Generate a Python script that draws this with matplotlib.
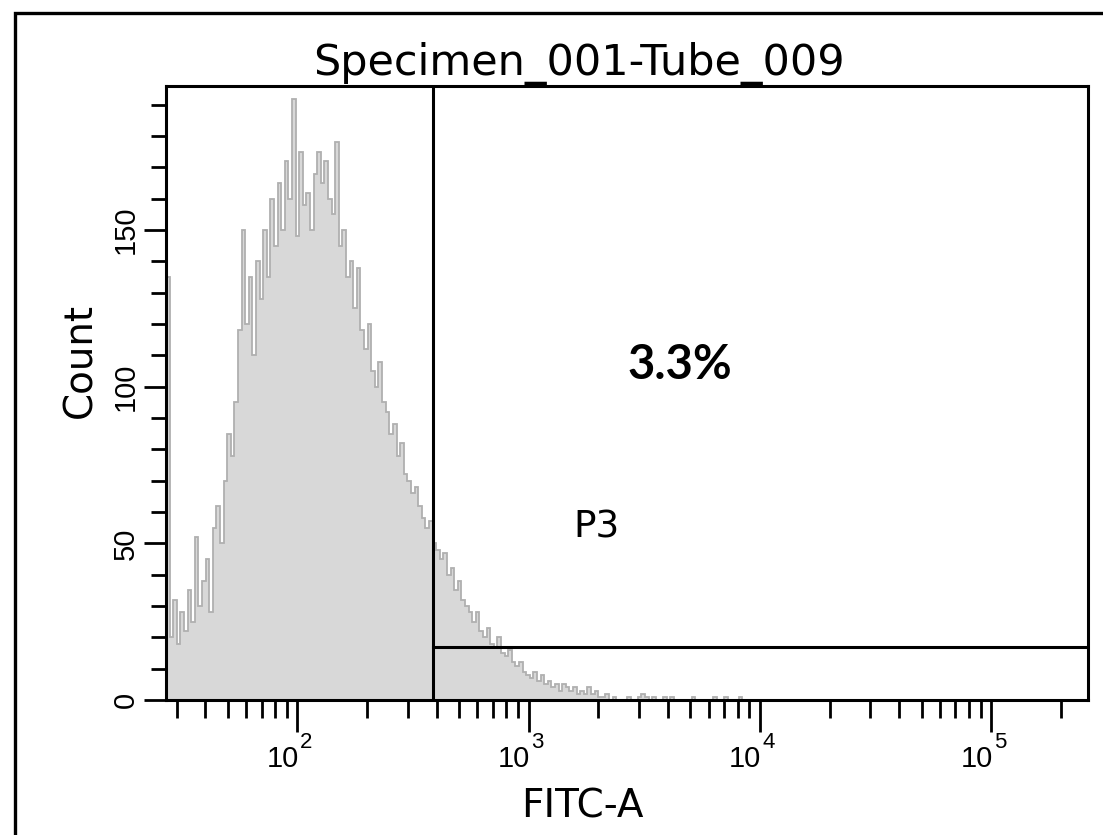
import numpy as np
import matplotlib
matplotlib.use("Agg")
import matplotlib.pyplot as plt
from matplotlib import patches, transforms
from matplotlib.ticker import FixedLocator, NullFormatter

# histogram counts per channel (256 log channels over the display range)
counts = [135,
          20, 32, 18, 28, 22, 35, 25, 52, 30, 38, 45, 28,
          55, 62, 50, 70, 85, 78, 95, 118, 150, 120, 135, 110,
          140, 128, 150, 135, 160, 145, 165, 150, 172, 160, 192, 148,
          175, 158, 162, 150, 168, 175, 165, 172, 160, 155, 178, 145,
          150, 135, 140, 125, 138, 118, 112, 120, 105, 100, 108, 95,
          92, 85, 88, 78, 82, 72, 70, 66, 68, 62, 58, 55,
          57, 50, 48, 45, 47, 40, 42, 35, 38, 32, 30, 28,
          25, 28, 22, 20, 23, 18, 17, 20, 15, 14, 16, 12,
          11, 12, 9, 8, 7, 9, 6, 8, 5, 6, 4, 5,
          3, 5, 4, 3, 4, 2, 3, 2, 4, 2, 3, 1,
          1, 2, 0, 1, 0, 0, 0, 1, 0, 0, 1, 2,
          1, 0, 1, 0, 0, 1, 0, 1, 0, 0, 0, 0,
          0, 1, 0, 0, 0, 0, 0, 1, 0, 0, 1, 0,
          0, 0, 1, 0, 0, 0]
n_channels = 256
x_min, x_max = 27, 262144
y_max = 196

gate_x = 385        # P3 gate lower bound
gate_y = 17         # height of gate bar
gate_pct = "3.3%"
gate_name = "P3"

title = "Specimen_001-Tube_009"
xlabel = "FITC-A"
ylabel = "Count"

x_major = [1e2, 1e3, 1e4, 1e5]
x_major_lab = ["2", "3", "4", "5"]
x_minor = [30, 40, 50, 60, 70, 80, 90,
           200, 300, 400, 500, 600, 700, 800, 900,
           2000, 3000, 4000, 5000, 6000, 7000, 8000, 9000,
           20000, 30000, 40000, 50000, 60000, 70000, 80000, 90000,
           200000]
y_major = [0, 50, 100, 150]
y_major_lab = ["0", "50", "100", "150"]
y_minor = [10, 20, 30, 40, 60, 70, 80, 90, 110, 120, 130, 140, 160, 170, 180, 190]

fig = plt.figure(figsize=(11.03, 8.35), dpi=100)
ax = fig.add_axes([0.1505, 0.1617, 0.8359, 0.7353])

lo, hi = np.log10(x_min), np.log10(x_max)
edges = np.logspace(lo, hi, n_channels + 1)[:len(counts) + 1]
ax.stairs(counts, edges, fill=True, color="#d8d8d8", baseline=0)
ax.stairs(counts, edges, color="#b0b0b0", linewidth=1.3, baseline=None)

# gate
ax.axvline(gate_x, color="black", linewidth=2.2)
ax.plot([gate_x, x_max], [gate_y, gate_y], color="black", linewidth=2.2)

ax.set_xscale("log")
ax.set_xlim(x_min, x_max)
ax.set_ylim(0, y_max)

for s in ax.spines.values():
    s.set_linewidth(2.2)

ax.xaxis.set_major_locator(FixedLocator(x_major))
ax.xaxis.set_minor_locator(FixedLocator(x_minor))
ax.xaxis.set_major_formatter(NullFormatter())
ax.xaxis.set_minor_formatter(NullFormatter())
ax.tick_params(axis="x", which="major", length=23, width=2, direction="out")
ax.tick_params(axis="x", which="minor", length=13, width=2, direction="out")

ax.set_yticks(y_major, labels=y_major_lab, rotation=90, va="center",
              fontsize=21, family="Liberation Sans")
ax.yaxis.set_minor_locator(FixedLocator(y_minor))
ax.tick_params(axis="y", which="major", length=16, width=2, direction="out", pad=3)
ax.tick_params(axis="y", which="minor", length=11, width=2, direction="out")

# decade labels: "10" left of the tick, exponent right of it
tr = ax.get_xaxis_transform()
for xv, e in zip(x_major, x_major_lab):
    ax.text(xv, -0.109, "10", transform=transforms.offset_copy(tr, fig, x=1, units="points"),
            ha="right", va="baseline", fontsize=21, family="Liberation Sans")
    ax.text(xv, -0.078, e, transform=transforms.offset_copy(tr, fig, x=2, units="points"),
            ha="left", va="baseline", fontsize=16, family="Liberation Sans")

fig.text(579 / 1103, 1 - 75 / 835, title, ha="center", va="baseline",
         fontsize=31, family="DejaVu Sans")
fig.text(582 / 1103, 1 - 817 / 835, xlabel, ha="center", va="baseline",
         fontsize=28, family="DejaVu Sans")
fig.text(80 / 1103, 1 - 360 / 835, ylabel, ha="center", va="center", rotation=90,
         fontsize=28, family="DejaVu Sans")

ax.text(0.5575, 0.5456, gate_pct, transform=ax.transAxes, ha="center", va="center",
        fontsize=34, family="Lato", fontweight="bold")
ax.text(0.4664, 0.281, gate_name, transform=ax.transAxes, ha="center", va="center",
        fontsize=27, family="DejaVu Sans")

# outer frame (only the left and top edges fall inside the picture)
fig.add_artist(patches.Rectangle((15 / 1103, -0.2), 2, 1.2 - 13 / 835,
                                 transform=fig.transFigure, fill=False,
                                 linewidth=2.4, edgecolor="black"))

fig.savefig("out.png", dpi=100)
